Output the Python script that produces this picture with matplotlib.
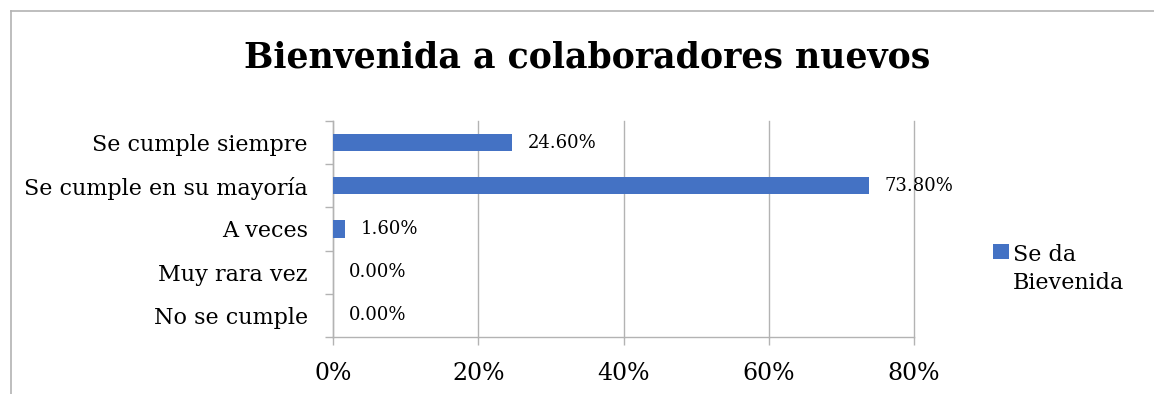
import matplotlib.pyplot as plt
from matplotlib.lines import Line2D
from matplotlib.patches import Rectangle
from matplotlib.ticker import FixedLocator, FuncFormatter

# respuestas y porcentajes
categorias = ["Se cumple siempre", "Se cumple en su mayoría", "A veces",
              "Muy rara vez", "No se cumple"]
porcentajes = [24.6, 73.8, 1.6, 0.0, 0.0]
serie = "Se da\nBievenida"
titulo = "Bienvenida a colaboradores nuevos"

plt.rcParams['font.family'] = ['DejaVu Serif', 'Liberation Serif']

azul = "#4472c4"
gris = "#b3b3b3"

W, H = 1154, 394
fig = plt.figure(figsize=(W/100, H/100), dpi=100)
ax = fig.add_axes([333/W, 1-337/H, 581/W, 216/H])

pos = list(range(len(categorias)))
bars = ax.barh(pos, porcentajes, height=0.4, color=azul, zorder=3)
for b, v in zip(bars, porcentajes):
    ax.annotate(f"{v:.2f}%", (b.get_width(), b.get_y() + b.get_height()/2),
                xytext=(11.5, 0), textcoords="offset points",
                va="center", ha="left", fontsize=13, zorder=4)

ax.set_xlim(0, 80)
ax.set_ylim(len(categorias) - 0.5, -0.5)
ax.set_xticks([0, 20, 40, 60, 80])
ax.xaxis.set_major_formatter(FuncFormatter(lambda x, p: f"{x:.0f}%"))
ax.set_yticks(pos)
ax.set_yticklabels(categorias)
ax.yaxis.set_minor_locator(FixedLocator([i - 0.5 for i in range(len(categorias) + 1)]))
ax.tick_params(axis="y", which="major", length=0, pad=18, labelsize=16)
ax.tick_params(axis="y", which="minor", length=6, color=gris, width=1)
ax.tick_params(axis="x", length=6, color=gris, width=1, pad=12, labelsize=17)

ax.grid(axis="x", color=gris, linewidth=1, zorder=0)
for gl in ax.get_xgridlines():
    gl.set_clip_on(False)
for s in ["top", "right"]:
    ax.spines[s].set_visible(False)
for s in ["left", "bottom"]:
    ax.spines[s].set_color(gris)
    ax.spines[s].set_linewidth(1)

fig.text(587/W, 1-58/H, titulo, ha="center", va="center",
         fontsize=25, fontweight="bold")

# leyenda: cuadro azul junto a la primera línea
fig.add_artist(Rectangle((993/W, 1-259/H), 16/W, 15/H, transform=fig.transFigure,
                         facecolor=azul, edgecolor="none"))
fig.text(1013/W, 1-269/H, serie, ha="left", va="center", fontsize=16,
         linespacing=1.35)

# marco del gráfico
fig.add_artist(Line2D([11/W, 11/W], [0, 1-11/H], transform=fig.transFigure,
                      color=gris, linewidth=1.2))
fig.add_artist(Line2D([11/W, 1], [1-11/H, 1-11/H], transform=fig.transFigure,
                      color=gris, linewidth=1.2))

fig.savefig("out.png", dpi=100)
